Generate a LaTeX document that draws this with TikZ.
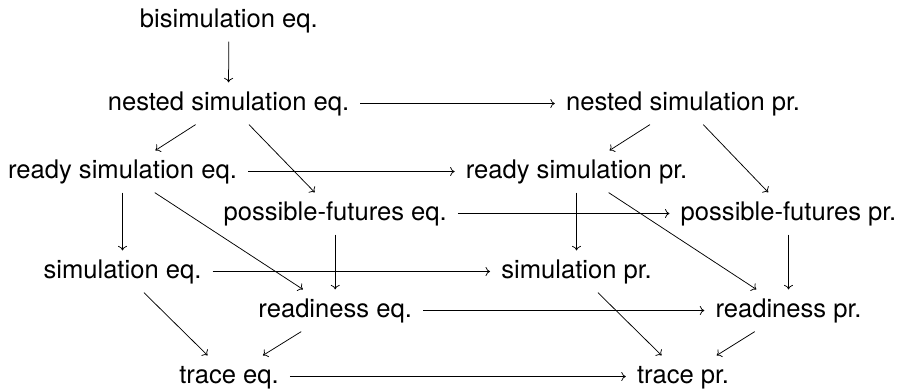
\documentclass[tikz,border=0pt]{standalone}
\usepackage{fontspec}
\setmainfont{TeX Gyre Heros}
\usetikzlibrary{arrows.meta}
\begin{document}
\begin{tikzpicture}[x=1pt,y=-1pt,
  obj/.style={anchor=base, font=\fontsize{25.6}{30}\selectfont, text height=18.4pt, text depth=5.4pt, inner xsep=11pt, inner ysep=9pt},
  arr/.style={-{To[length=4.5pt,width=9pt]}, line width=0.75pt}]
\useasboundingbox (0,0) rectangle (900,389);
% eq layer
\node[obj] (bis) at (228.8,27) {bisimulation eq.};
\node[obj] (nse) at (228.5,110) {nested simulation eq.};
\node[obj] (rse) at (122.5,178) {ready simulation eq.};
\node[obj] (pfe) at (335.2,220) {possible-futures eq.};
\node[obj] (sie) at (122.5,278) {simulation eq.};
\node[obj] (rde) at (335.2,317) {readiness eq.};
\node[obj] (tre) at (229,383) {trace eq.};
% pr layer
\node[obj] (nsp) at (683,110) {nested simulation pr.};
\node[obj] (rsp) at (576.5,178) {ready simulation pr.};
\node[obj] (pfp) at (788.5,220) {possible-futures pr.};
\node[obj] (sip) at (576.5,278) {simulation pr.};
\node[obj] (rdp) at (788.5,317) {readiness pr.};
\node[obj] (trp) at (683,383) {trace pr.};
% edges
\draw[arr] (bis) -- (nse);
\draw[arr] (nse) -- (nsp);
\draw[arr] (nse) -- (rse);
\draw[arr] (nse) -- (pfe);
\draw[arr] (nsp) -- (rsp);
\draw[arr] (nsp) -- (pfp);
\draw[arr] (rse) -- (rsp);
\draw[arr] (rse) -- (sie);
\draw[arr] (rse) -- (rde);
\draw[arr] (rsp) -- (sip);
\draw[arr] (rsp) -- (rdp);
\draw[arr] (pfe) -- (pfp);
\draw[arr] (pfe) -- (rde);
\draw[arr] (pfp) -- (rdp);
\draw[arr] (sie) -- (sip);
\draw[arr] (sie) -- (tre);
\draw[arr] (sip) -- (trp);
\draw[arr] (rde) -- (rdp);
\draw[arr] (rde) -- (tre);
\draw[arr] (rdp) -- (trp);
\draw[arr] (tre) -- (trp);
\end{tikzpicture}
\end{document}
